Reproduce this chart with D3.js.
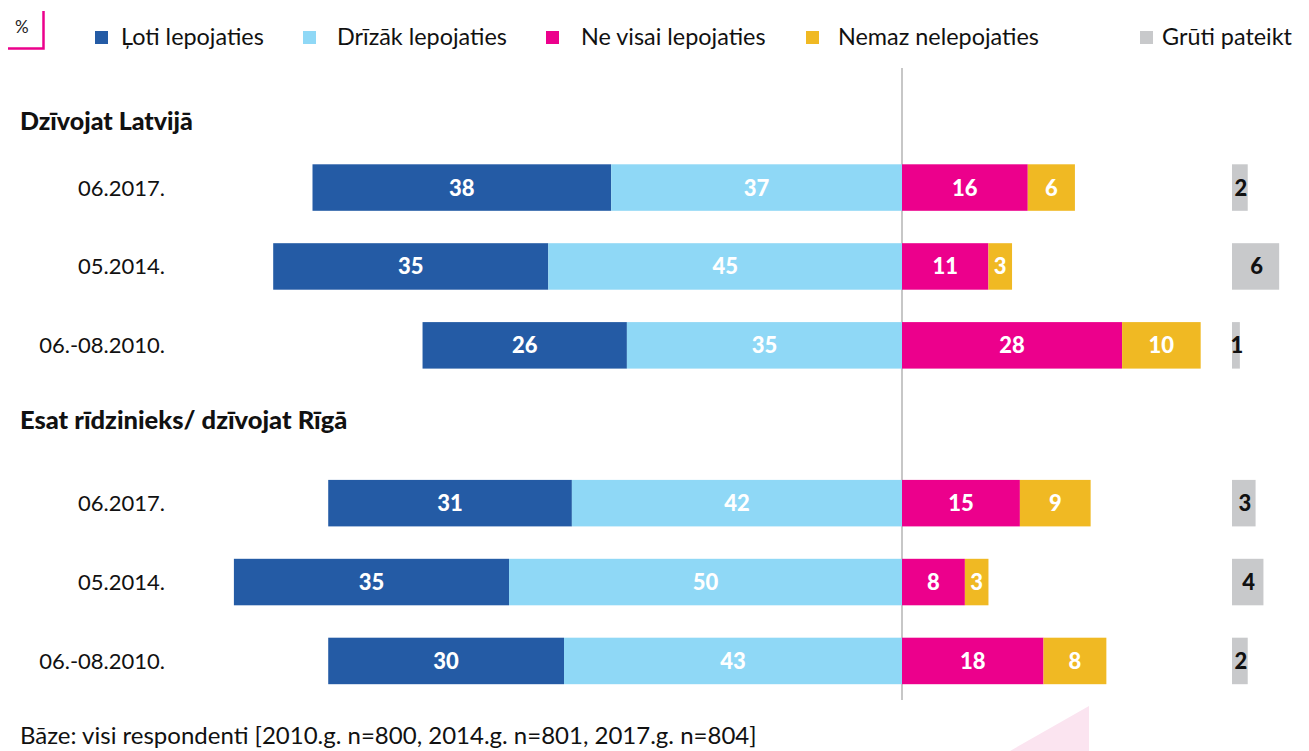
<!DOCTYPE html>
<html><head><meta charset="utf-8">
<script src="https://cdn.jsdelivr.net/npm/d3@7"></script>
<style>body{margin:0;background:#fff}svg{display:block}text{font-family:Lato,"Open Sans",sans-serif}</style>
</head><body><svg id="c" width="1309" height="751"></svg>
<script>
const seriesNames = ["Ļoti lepojaties","Drīzāk lepojaties","Ne visai lepojaties","Nemaz nelepojaties","Grūti pateikt"];
const colors = ["#245ba5","#8fd8f6","#ec008c","#f0b923","#c8c9cb"];
const groups = ["Dzīvojat Latvijā","Esat rīdzinieks/ dzīvojat Rīgā"];
const periods = ["06.2017.","05.2014.","06.-08.2010."];
const veryProud   = [38,35,26, 31,35,30];
const ratherProud = [37,45,35, 42,50,43];
const notVery     = [16,11,28, 15,8,18];
const notAtAll    = [6,3,10, 9,3,8];
const hardToSay   = [2,6,1, 3,4,2];
const rowIndex    = [0,1,2, 4,5,6];
const footnote = "Bāze: visi respondenti [2010.g. n=800, 2014.g. n=801, 2017.g. n=804]";

const svg = d3.select("#c");
const x = d3.scaleLinear().domain([0,1]).range([902, 909.86]);
const xg = d3.scaleLinear().domain([0,1]).range([1232, 1239.86]);
const y = d3.scaleLinear().domain([0,1]).range([164.3, 243.2]);
const bh = 46.5;

// decorative triangle
svg.append("polygon").attr("points","1010,751 1089,706 1089,751").attr("fill","#fbe4f0");

// legend
const pctG = svg.append("g");
pctG.append("path").attr("d","M8,48.5 H43.5 V11").attr("fill","none").attr("stroke","#ec008c").attr("stroke-width",2.5);
pctG.append("text").attr("x",15).attr("y",33).attr("font-size",17).attr("fill","#222").text("%");
const legX = [95,303,546,806,1140];
const legTX = [121,337,581,838,1162];
seriesNames.forEach((n,i)=>{
  svg.append("rect").attr("x",legX[i]).attr("y",31).attr("width",13).attr("height",13).attr("fill",colors[i]);
  svg.append("text").attr("x",legTX[i]).attr("y",45).attr("font-size",23.4).attr("fill","#111").text(n);
});

// center line
svg.append("line").attr("x1",902).attr("x2",902).attr("y1",68).attr("y2",700).attr("stroke","#b5b5b5").attr("stroke-width",1.5);

// group headers
svg.append("text").attr("x",20).attr("y",130).attr("font-size",25).attr("font-weight",900).attr("fill","#111").text(groups[0]);
svg.append("text").attr("x",20).attr("y",429).attr("font-size",25.5).attr("font-weight",900).attr("fill","#111").text(groups[1]);

const rows = rowIndex.map((r,i)=>({r, label: periods[i%3], v:[veryProud[i],ratherProud[i],notVery[i],notAtAll[i],hardToSay[i]]}));
rows.forEach(d=>{
  const top = y(d.r);
  const cy = top + bh/2;
  svg.append("text").attr("x",165).attr("y",cy+8).attr("text-anchor","end").attr("font-size",22).attr("fill","#111").text(d.label);
  const segs = [
    {x0:-(d.v[0]+d.v[1]), x1:-d.v[1], v:d.v[0], c:colors[0]},
    {x0:-d.v[1], x1:0, v:d.v[1], c:colors[1]},
    {x0:0, x1:d.v[2], v:d.v[2], c:colors[2]},
    {x0:d.v[2], x1:d.v[2]+d.v[3], v:d.v[3], c:colors[3]},
  ];
  segs.forEach(s=>{
    svg.append("rect").attr("x",x(s.x0)).attr("y",top).attr("width",x(s.x1)-x(s.x0)).attr("height",bh).attr("fill",s.c);
    svg.append("text").attr("x",(x(s.x0)+x(s.x1))/2).attr("y",cy+8).attr("text-anchor","middle")
      .attr("font-size",22).attr("font-weight",900).attr("fill","#fff").text(s.v);
  });
  svg.append("rect").attr("x",xg(0)).attr("y",top).attr("width",xg(d.v[4])-xg(0)).attr("height",bh).attr("fill",colors[4]);
  svg.append("text").attr("x",(xg(0)+xg(d.v[4]))/2+1).attr("y",cy+8).attr("text-anchor","middle")
    .attr("font-size",22).attr("font-weight",900).attr("fill","#111").text(d.v[4]);
});

svg.append("text").attr("x",20).attr("y",744).attr("font-size",24).attr("fill","#111").text(footnote);
</script></body></html>
